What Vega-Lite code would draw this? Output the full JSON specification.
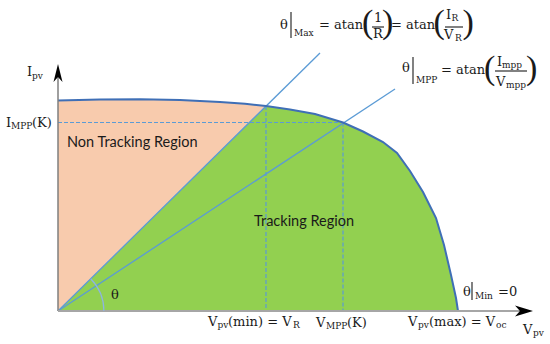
{
  "$schema": "https://vega.github.io/schema/vega-lite/v6.json",
  "width": 550,
  "height": 344,
  "padding": 0,
  "autosize": {"type": "fit", "contains": "padding"},
  "background": "white",
  "config": {"view": {"stroke": null}},
  "datasets": {
    "curve": [
      {"V": 0, "I": 210.5}, {"V": 42, "I": 211.5}, {"V": 82, "I": 211.7}, {"V": 122, "I": 211},
      {"V": 162, "I": 209}, {"V": 187, "I": 207.3}, {"V": 208, "I": 205}, {"V": 232, "I": 201.5},
      {"V": 257, "I": 197}, {"V": 285, "I": 188.5}, {"V": 305, "I": 179.5}, {"V": 325, "I": 169},
      {"V": 339, "I": 158}, {"V": 352, "I": 140}, {"V": 365, "I": 119}, {"V": 378, "I": 93},
      {"V": 386, "I": 66}, {"V": 393, "I": 36}, {"V": 398, "I": 13}, {"V": 400, "I": 0}
    ],
    "green": [
      {"V": 0, "I": 0}, {"V": 208, "I": 205}, {"V": 232, "I": 201.5},
      {"V": 257, "I": 197}, {"V": 285, "I": 188.5}, {"V": 305, "I": 179.5}, {"V": 325, "I": 169},
      {"V": 339, "I": 158}, {"V": 352, "I": 140}, {"V": 365, "I": 119}, {"V": 378, "I": 93},
      {"V": 386, "I": 66}, {"V": 393, "I": 36}, {"V": 398, "I": 13}, {"V": 400, "I": 0}
    ],
    "t_main": [
      {"V": 222, "I": 286, "t": "θ"}, {"V": 261, "I": 286, "t": "= atan"}, {"V": 316, "I": 293, "t": "1"},
      {"V": 315, "I": 277, "t": "R"}, {"V": 333, "I": 286, "t": "= atan"}, {"V": 388, "I": 296, "t": "I"},
      {"V": 386, "I": 276, "t": "V"},
      {"V": 344, "I": 243, "t": "θ"}, {"V": 383, "I": 241, "t": "= atan"}, {"V": 439, "I": 249, "t": "I"},
      {"V": 438, "I": 229, "t": "V"},
      {"V": -31, "I": 239, "t": "I"}, {"V": -52, "I": 188, "t": "I"}, {"V": -26, "I": 188, "t": "(K)"},
      {"V": 150, "I": -11, "t": "V"}, {"V": 170, "I": -11, "t": "(min) = V"},
      {"V": 258, "I": -12, "t": "V"}, {"V": 289, "I": -12, "t": "(K)"},
      {"V": 350, "I": -11, "t": "V"}, {"V": 371, "I": -11, "t": "(max) = V"},
      {"V": 465, "I": -19, "t": "V"}, {"V": 405, "I": 19, "t": "θ"}, {"V": 440, "I": 19, "t": "=0"},
      {"V": 53, "I": 16, "t": "θ"}
    ],
    "t_sub": [
      {"V": 236, "I": 278, "t": "Max"}, {"V": 393.5, "I": 293, "t": "R"}, {"V": 397, "I": 273, "t": "R"},
      {"V": 358, "I": 231, "t": "MPP"}, {"V": 444, "I": 246, "t": "mpp"}, {"V": 448, "I": 226, "t": "mpp"},
      {"V": -26, "I": 235, "t": "pv"}, {"V": -47, "I": 185, "t": "MPP"},
      {"V": 159.5, "I": -14, "t": "pv"}, {"V": 235, "I": -14, "t": "R"},
      {"V": 268, "I": -15, "t": "MPP"}, {"V": 360, "I": -14, "t": "pv"}, {"V": 438, "I": -14, "t": "oc"},
      {"V": 475, "I": -22, "t": "pv"}, {"V": 417, "I": 15, "t": "Min"}
    ],
    "t_paren": [
      {"V": 304, "I": 288, "t": "("}, {"V": 324, "I": 288, "t": ")"},
      {"V": 375.5, "I": 288, "t": "("}, {"V": 404.5, "I": 288, "t": ")"},
      {"V": 426, "I": 242, "t": "("}, {"V": 468, "I": 242, "t": ")"}
    ]
  },
  "encoding": {
    "x": {"field": "V", "type": "quantitative", "scale": {"domain": [-58, 492], "nice": false, "zero": false}, "axis": null},
    "y": {"field": "I", "type": "quantitative", "scale": {"domain": [-33, 311], "nice": false, "zero": false}, "axis": null}
  },
  "layer": [
    {
      "data": {"name": "curve"},
      "transform": [{"filter": "datum.V <= 208"}],
      "mark": {"type": "area", "color": "#F8CBAD"}
    },
    {
      "data": {"name": "green"},
      "mark": {"type": "area", "color": "#92D050"}
    },
    {
      "data": {"values": [
        {"V": 0, "I": 188.5, "V2": 285, "I2": 188.5},
        {"V": 208, "I": 205, "V2": 208, "I2": 0},
        {"V": 285, "I": 188.5, "V2": 285, "I2": 0}
      ]},
      "mark": {"type": "rule", "color": "#5B9BD5", "strokeWidth": 1.2, "strokeDash": [4, 2]},
      "encoding": {"x2": {"field": "V2"}, "y2": {"field": "I2"}}
    },
    {
      "data": {"values": [
        {"V": 0, "I": 0, "V2": 262, "I2": 258},
        {"V": 0, "I": 0, "V2": 337, "I2": 222}
      ]},
      "mark": {"type": "rule", "color": "#5B9BD5", "strokeWidth": 1.3},
      "encoding": {"x2": {"field": "V2"}, "y2": {"field": "I2"}}
    },
    {
      "data": {"name": "curve"},
      "mark": {"type": "line", "color": "#3F6FB6", "strokeWidth": 2}
    },
    {
      "data": {"values": [{"V": 0, "I": 0, "V2": 0, "I2": 238}]},
      "mark": {"type": "rule", "color": "#7F7F7F", "strokeWidth": 1.5},
      "encoding": {"x2": {"field": "V2"}, "y2": {"field": "I2"}}
    },
    {
      "data": {"values": [{"V": 0, "I": 0, "V2": 462, "I2": 0}]},
      "mark": {"type": "rule", "color": "#A6A6A6", "strokeWidth": 1.8},
      "encoding": {"x2": {"field": "V2"}, "y2": {"field": "I2"}}
    },
    {
      "data": {"values": [{"V": 0, "I": 238}]},
      "mark": {"type": "point", "filled": true, "color": "black", "opacity": 1, "size": 324, "shape": "M0,-1 L0.5,1 L0,0.45 L-0.5,1 Z"}
    },
    {
      "data": {"values": [{"V": 466, "I": 0}]},
      "mark": {"type": "point", "filled": true, "color": "black", "opacity": 1, "size": 324, "shape": "M1,0 L-1,-0.6 L-0.45,0 L-1,0.6 Z"}
    },
    {
      "data": {"values": [{"V": 0, "I": 0, "t0": 0.793, "t1": 1.5708}]},
      "mark": {"type": "arc", "radius": 46.5, "radius2": 45.3, "color": "#8DB4E2"},
      "encoding": {
        "theta": {"field": "t0", "type": "quantitative", "scale": null},
        "theta2": {"field": "t1"}
      }
    },
    {
      "data": {"values": [
        {"V": 233, "I": 299, "V2": 233, "I2": 273},
        {"V": 355, "I": 254, "V2": 355, "I2": 227},
        {"V": 414, "I": 29, "V2": 414, "I2": 11},
        {"V": 314, "I": 284, "V2": 326, "I2": 284},
        {"V": 387, "I": 284, "V2": 405, "I2": 284},
        {"V": 437, "I": 240, "V2": 469, "I2": 240}
      ]},
      "mark": {"type": "rule", "color": "#1a1a1a", "strokeWidth": 1.1},
      "encoding": {"x2": {"field": "V2"}, "y2": {"field": "I2"}}
    },
    {
      "data": {"name": "t_main"},
      "mark": {"type": "text", "align": "left", "baseline": "middle", "font": "DejaVu Serif", "fontSize": 13, "color": "#1a1a1a"},
      "encoding": {"text": {"field": "t"}}
    },
    {
      "data": {"name": "t_sub"},
      "mark": {"type": "text", "align": "left", "baseline": "middle", "font": "DejaVu Serif", "fontSize": 9, "color": "#1a1a1a"},
      "encoding": {"text": {"field": "t"}}
    },
    {
      "data": {"name": "t_paren"},
      "mark": {"type": "text", "align": "left", "baseline": "middle", "font": "Liberation Serif", "fontSize": 34, "color": "#1a1a1a"},
      "encoding": {"text": {"field": "t"}}
    },
    {
      "data": {"values": [
        {"V": 9, "I": 168, "t": "Non Tracking Region"},
        {"V": 196, "I": 89, "t": "Tracking Region"}
      ]},
      "mark": {"type": "text", "align": "left", "baseline": "middle", "font": "Lato", "fontSize": 14.5, "color": "#1a1a1a"},
      "encoding": {"text": {"field": "t"}}
    }
  ]
}
